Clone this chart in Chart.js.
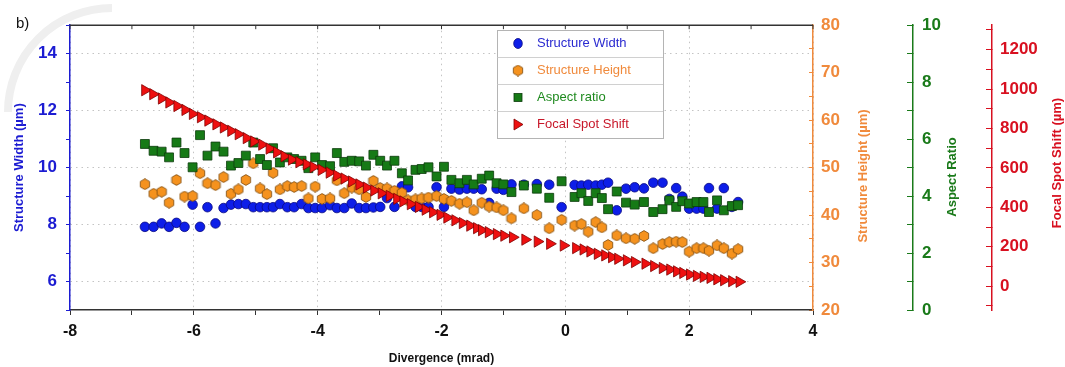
<!DOCTYPE html>
<html>
<head>
<meta charset="utf-8">
<script src="https://cdn.jsdelivr.net/npm/chart.js@4.4.1/dist/chart.umd.min.js"></script>
<style>
html, body { margin: 0; padding: 0; background: #fff; }
#wrap { width: 1065px; height: 367px; position: relative; }
</style>
</head>
<body>
<div id="wrap"><canvas id="chart"></canvas></div>
<script>
// divergence (mrad) for width / height / aspect ratio
const divergence = [
    -6.79, -6.65, -6.52, -6.40, -6.28, -6.15, -6.02, -5.90, -5.78, -5.65,
    -5.52, -5.40, -5.28, -5.16, -5.04, -4.93, -4.82, -4.72, -4.61, -4.49,
    -4.38, -4.26, -4.15, -4.04, -3.93, -3.80, -3.69, -3.57, -3.45, -3.33,
    -3.22, -3.10, -2.99, -2.88, -2.76, -2.64, -2.54, -2.42, -2.32, -2.21,
    -2.08, -1.96, -1.84, -1.71, -1.59, -1.48, -1.35, -1.23, -1.11, -1.00,
    -0.87, -0.67, -0.46, -0.26, -0.06, 0.15, 0.26, 0.37, 0.49, 0.59,
    0.69, 0.83, 0.98, 1.12, 1.27, 1.42, 1.57, 1.68, 1.79, 1.89,
    2.00, 2.12, 2.23, 2.32, 2.45, 2.56, 2.69, 2.79
];
const structureWidth = [
    7.92, 7.92, 8.04, 7.92, 8.06, 7.92, 8.70, 7.92, 8.61, 8.04,
    8.58, 8.70, 8.72, 8.72, 8.61, 8.61, 8.61, 8.61, 8.72, 8.61,
    8.61, 8.72, 8.58, 8.58, 8.58, 8.68, 8.58, 8.58, 8.74, 8.58,
    8.58, 8.60, 8.62, 8.93, 8.62, 9.34, 9.31, 8.62, 8.62, 8.62,
    9.31, 8.62, 9.26, 9.23, 9.26, 9.26, 9.24, 8.76, 9.26, 9.22,
    9.41, 9.40, 9.42, 9.40, 8.61, 9.39, 9.37, 9.40, 9.37, 9.40,
    9.47, 8.50, 9.26, 9.31, 9.27, 9.47, 9.47, 8.90, 9.28, 8.98,
    8.56, 8.56, 8.56, 9.28, 8.56, 9.28, 8.62, 8.79
];
const structureHeight = [
    46.5, 44.5, 44.9, 42.6, 47.4, 43.9, 44.0, 48.8, 46.7, 46.3,
    48.0, 44.5, 45.4, 47.4, 50.9, 45.6, 44.4, 48.9, 45.4, 46.1,
    45.9, 46.1, 43.5, 46.0, 43.4, 43.5, 47.3, 44.6, 45.8, 45.4,
    43.8, 47.2, 45.7, 45.6, 45.1, 44.7, 43.1, 43.3, 43.5, 43.7,
    44.0, 43.4, 43.0, 42.4, 42.7, 41.0, 42.6, 41.8, 41.6, 41.0,
    39.3, 41.4, 40.0, 37.2, 39.0, 37.8, 38.1, 36.5, 38.5, 37.4,
    33.7, 35.7, 35.1, 35.0, 35.6, 33.0, 33.9, 34.3, 34.4, 34.3,
    32.3, 33.0, 33.0, 32.5, 33.6, 33.0, 31.9, 32.8
];
const aspectRatio = [
    5.83, 5.59, 5.56, 5.36, 5.88, 5.51, 5.01, 6.14, 5.42, 5.74,
    5.56, 5.07, 5.16, 5.42, 5.88, 5.30, 5.09, 5.68, 5.18, 5.36,
    5.30, 5.24, 4.98, 5.36, 5.09, 5.05, 5.51, 5.20, 5.24, 5.22,
    5.07, 5.45, 5.24, 5.07, 5.24, 4.80, 4.55, 4.92, 4.95, 5.01,
    4.69, 5.03, 4.57, 4.45, 4.57, 4.41, 4.61, 4.72, 4.45, 4.41,
    4.14, 4.37, 4.26, 3.94, 4.52, 3.97, 4.10, 3.83, 4.10, 3.93,
    3.54, 4.16, 3.77, 3.70, 3.79, 3.44, 3.54, 3.85, 3.62, 3.82,
    3.74, 3.79, 3.79, 3.44, 3.85, 3.50, 3.65, 3.68
];
// focal spot shift has its own divergence samples
const divergenceFocal = [
    -6.79, -6.66, -6.52, -6.40, -6.27, -6.14, -6.02, -5.89, -5.77, -5.64,
    -5.52, -5.40, -5.28, -5.15, -5.03, -4.90, -4.78, -4.66, -4.54, -4.42,
    -4.30, -4.18, -4.07, -3.94, -3.81, -3.69, -3.57, -3.45, -3.33, -3.21,
    -3.09, -2.97, -2.84, -2.72, -2.62, -2.50, -2.37, -2.26, -2.14, -2.02,
    -1.91, -1.78, -1.66, -1.54, -1.43, -1.35, -1.24, -1.11, -0.99, -0.85,
    -0.65, -0.45, -0.25, -0.03, 0.17, 0.29, 0.40, 0.52, 0.64, 0.75,
    0.85, 0.99, 1.12, 1.29, 1.43, 1.57, 1.69, 1.80, 1.90, 2.01,
    2.12, 2.23, 2.34, 2.45, 2.56, 2.69, 2.81
];
const focalSpotShift = [
    994, 974, 952, 932, 914, 894, 874, 857, 840, 821,
    805, 788, 771, 751, 734, 718, 698, 679, 659, 642,
    629, 618, 604, 590, 576, 561, 546, 531, 516, 500,
    485, 471, 458, 443, 430, 416, 402, 388, 375, 362,
    348, 334, 320, 307, 294, 284, 274, 264, 256, 248,
    236, 226, 215, 206, 193, 186, 176, 164, 156, 147,
    139, 131, 122, 114, 102, 92, 84, 75, 67, 59,
    52, 47, 42, 35, 30, 25, 22
];

// labelled ticks
const xLabels = [-8, -6, -4, -2, 0, 2, 4];
const widthLabels = [6, 8, 10, 12, 14];
const heightLabels = [20, 30, 40, 50, 60, 70, 80];
const ratioLabels = [0, 2, 4, 6, 8, 10];
const shiftLabels = [0, 200, 400, 600, 800, 1000, 1200];

const BLUE = "#1c1cd2";
const ORANGE = "#f08a3c";
const GREEN = "#1a7a1a";
const RED = "#d81020";
const FONT = "'Liberation Sans', Arial, sans-serif";

Chart.defaults.font.family = FONT;

function pairs(xs, ys) {
    return xs.map((x, i) => ({ x: x, y: ys[i] }));
}

function hexagon(size, fill, stroke) {
    const c = document.createElement("canvas");
    c.width = size;
    c.height = size;
    const g = c.getContext("2d");
    const r = size / 2 - 0.6;
    g.beginPath();
    for (let i = 0; i < 6; i++) {
        const a = Math.PI / 2 + i * Math.PI / 3;
        g.lineTo(size / 2 + r * Math.cos(a), size / 2 + r * Math.sin(a));
    }
    g.closePath();
    g.fillStyle = fill;
    g.fill();
    g.lineWidth = 0.8;
    g.strokeStyle = stroke;
    g.stroke();
    return c;
}

const hexImg = hexagon(12, "#f5921e", "#7a4a10");

function labelsOnly(list) {
    return v => list.includes(v) ? String(v) : "";
}
function gridAt(list) {
    return c => (c.tick && list.includes(c.tick.value)) ? "#c4c4c4" : "rgba(0,0,0,0)";
}

const decorations = {
    id: "decorations",
    beforeDraw(chart) {
        const ctx = chart.ctx;
        ctx.save();
        ctx.strokeStyle = "#efefef";
        ctx.lineWidth = 8;
        ctx.beginPath();
        ctx.arc(112, 112, 104, Math.PI, 1.5 * Math.PI);
        ctx.stroke();
        ctx.restore();
    },
    afterDraw(chart) {
        const { ctx, chartArea: a, scales } = chart;
        ctx.save();

        // top frame with ticks
        ctx.strokeStyle = "#333";
        ctx.lineWidth = 1.5;
        ctx.beginPath();
        ctx.moveTo(a.left, a.top);
        ctx.lineTo(a.right, a.top);
        ctx.stroke();
        ctx.lineWidth = 1;
        scales.x.ticks.forEach(t => {
            const px = scales.x.getPixelForValue(t.value);
            ctx.beginPath();
            ctx.moveTo(px, a.top);
            ctx.lineTo(px, a.top + 4);
            ctx.stroke();
        });

        // panel letter
        ctx.fillStyle = "#111";
        ctx.font = "15px " + FONT;
        ctx.textAlign = "left";
        ctx.textBaseline = "alphabetic";
        ctx.fillText("b)", 16, 28);

        // right axis titles (reading upwards)
        const titles = [
            ["Structure Height (µm)", scales.yH.left + 50, 176, ORANGE],
            ["Aspect Ratio", scales.yA.left + 39, 177, GREEN],
            ["Focal Spot Shift (µm)", scales.yF.left + 65, 163, RED],
        ];
        ctx.font = "bold 13px " + FONT;
        ctx.textAlign = "center";
        ctx.textBaseline = "middle";
        titles.forEach(([text, x, y, color]) => {
            ctx.save();
            ctx.translate(x, y);
            ctx.rotate(-Math.PI / 2);
            ctx.fillStyle = color;
            ctx.fillText(text, 0, 0);
            ctx.restore();
        });

        // legend
        const lx = 497, ly = 30, lw = 166, rh = 27;
        const items = [
            ["Structure Width", "circle", "#2a2ad0"],
            ["Structure Height", "hex", "#f08a3c"],
            ["Aspect ratio", "square", "#1f8a1f"],
            ["Focal Spot Shift", "tri", "#c8182a"],
        ];
        ctx.fillStyle = "#fff";
        ctx.fillRect(lx, ly, lw, rh * items.length);
        ctx.strokeStyle = "#b4b4b4";
        ctx.lineWidth = 1;
        ctx.strokeRect(lx + 0.5, ly + 0.5, lw, rh * items.length);
        ctx.font = "13px " + FONT;
        ctx.textAlign = "left";
        items.forEach(([text, shape, color], i) => {
            const cy = ly + rh * i + rh / 2;
            if (i > 0) {
                ctx.strokeStyle = "#c4c4c4";
                ctx.beginPath();
                ctx.moveTo(lx, ly + rh * i + 0.5);
                ctx.lineTo(lx + lw, ly + rh * i + 0.5);
                ctx.stroke();
            }
            const mx = 518;
            ctx.lineWidth = 0.8;
            if (shape === "circle") {
                ctx.fillStyle = "#0d1ee8";
                ctx.strokeStyle = "#0a0a80";
                ctx.beginPath();
                ctx.ellipse(mx, cy, 4.3, 5, 0, 0, Math.PI * 2);
                ctx.fill();
                ctx.stroke();
            } else if (shape === "hex") {
                ctx.drawImage(hexImg, mx - 6, cy - 6);
            } else if (shape === "square") {
                ctx.fillStyle = "#167a16";
                ctx.strokeStyle = "#0c3b0c";
                ctx.fillRect(mx - 4, cy - 4, 8, 8);
                ctx.strokeRect(mx - 4, cy - 4, 8, 8);
            } else {
                ctx.fillStyle = "#ee1010";
                ctx.strokeStyle = "#800000";
                ctx.beginPath();
                ctx.moveTo(mx + 5, cy);
                ctx.lineTo(mx - 4, cy - 5.5);
                ctx.lineTo(mx - 4, cy + 5.5);
                ctx.closePath();
                ctx.fill();
                ctx.stroke();
            }
            ctx.fillStyle = color;
            ctx.fillText(text, 537, cy);
        });

        ctx.restore();
    }
};

new Chart(document.getElementById("chart"), {
    type: "scatter",
    data: {
        datasets: [
            {
                label: "Structure Width",
                data: pairs(divergence, structureWidth),
                yAxisID: "y",
                pointStyle: "circle",
                pointRadius: 4.8,
                backgroundColor: "#0d1ee8",
                borderColor: "#0a0a80",
                borderWidth: 0.8,
                order: 4,
            },
            {
                label: "Structure Height",
                data: pairs(divergence, structureHeight),
                yAxisID: "yH",
                pointStyle: hexImg,
                pointRadius: 5,
                order: 3,
            },
            {
                label: "Aspect ratio",
                data: pairs(divergence, aspectRatio),
                yAxisID: "yA",
                pointStyle: "rect",
                pointRadius: 6.3,
                backgroundColor: "#167a16",
                borderColor: "#0c3b0c",
                borderWidth: 0.8,
                order: 2,
            },
            {
                label: "Focal Spot Shift",
                data: pairs(divergenceFocal, focalSpotShift),
                yAxisID: "yF",
                pointStyle: "triangle",
                rotation: 90,
                pointRadius: 6.5,
                backgroundColor: "#ee1010",
                borderColor: "#800000",
                borderWidth: 0.8,
                order: 1,
            },
        ],
    },
    options: {
        responsive: true,
        maintainAspectRatio: false,
        animation: false,
        layout: { padding: { top: 23, left: 0, right: 0, bottom: 0 } },
        plugins: {
            legend: { display: false },
            tooltip: { enabled: false },
        },
        scales: {
            x: {
                type: "linear",
                position: "bottom",
                min: -8,
                max: 4,
                ticks: {
                    stepSize: 1,
                    autoSkip: false,
                    maxRotation: 0,
                    padding: 7,
                    color: "#111",
                    font: { size: 16, weight: "bold" },
                    callback: labelsOnly(xLabels),
                },
                grid: { color: gridAt(xLabels), tickColor: "#333", tickLength: 5 },
                border: { color: "#333", width: 1.5, dash: [1.5, 4] },
                title: {
                    display: true,
                    text: "Divergence (mrad)",
                    color: "#111",
                    font: { size: 12, weight: "bold" },
                    padding: { top: 0, bottom: 1 },
                },
                afterFit: s => { s.height = 57; },
            },
            y: {
                position: "left",
                min: 5,
                max: 15,
                ticks: {
                    stepSize: 1,
                    autoSkip: false,
                    padding: 9,
                    color: BLUE,
                    font: { size: 17, weight: "bold" },
                    callback: labelsOnly(widthLabels),
                },
                grid: { color: gridAt(widthLabels), tickColor: BLUE, tickLength: 4 },
                border: { color: BLUE, width: 1.5, dash: [1.5, 4] },
                title: {
                    display: true,
                    text: "Structure Width (µm)",
                    color: BLUE,
                    font: { size: 13, weight: "bold" },
                    padding: { top: 12, bottom: 0 },
                },
                afterFit: s => { s.width = 70; },
            },
            yH: {
                position: "right",
                min: 20,
                max: 80,
                ticks: {
                    stepSize: 5,
                    autoSkip: false,
                    padding: 12,
                    color: ORANGE,
                    font: { size: 17, weight: "bold" },
                    callback: labelsOnly(heightLabels),
                },
                grid: { drawOnChartArea: false, tickColor: ORANGE, tickLength: -4 },
                border: { color: ORANGE, width: 1.5 },
                afterFit: s => { s.width = 100; },
            },
            yA: {
                position: "right",
                min: 0,
                max: 10,
                ticks: {
                    stepSize: 1,
                    autoSkip: false,
                    padding: 15,
                    color: GREEN,
                    font: { size: 17, weight: "bold" },
                    callback: labelsOnly(ratioLabels),
                },
                grid: { drawOnChartArea: false, tickColor: GREEN, tickLength: -6 },
                border: { color: GREEN, width: 1.5 },
                afterFit: s => { s.width = 79; },
            },
            yF: {
                position: "right",
                min: -121,
                max: 1324,
                ticks: {
                    stepSize: 100,
                    autoSkip: false,
                    includeBounds: false,
                    padding: 14,
                    color: RED,
                    font: { size: 17, weight: "bold" },
                    callback: labelsOnly(shiftLabels),
                },
                grid: { drawOnChartArea: false, tickColor: RED, tickLength: -6 },
                border: { color: RED, width: 1.5 },
                afterFit: s => { s.width = 73; },
            },
        },
    },
    plugins: [decorations],
});
</script>
</body>
</html>
